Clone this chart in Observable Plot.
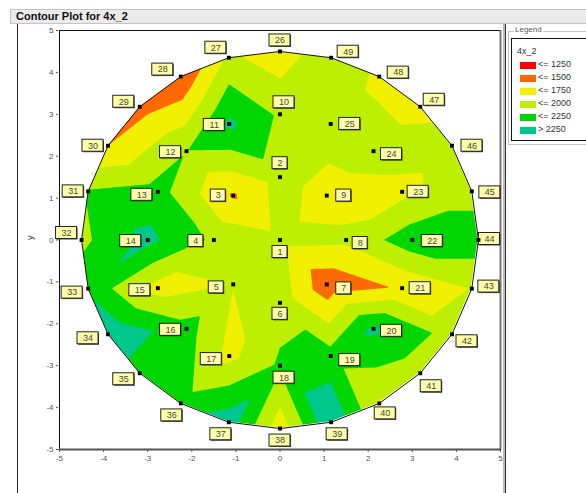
<!DOCTYPE html>
<html><head><meta charset="utf-8">
<script src="https://cdn.jsdelivr.net/npm/d3@7"></script>
<script src="https://cdn.jsdelivr.net/npm/@observablehq/plot@0.6"></script>
<style>
body{margin:0;background:#fff;font-family:"Liberation Sans",Arial,sans-serif;}
#wrap{position:relative;width:586px;height:493px;overflow:hidden;background:#fff;}
#wrap svg{position:absolute;left:0;top:0;}
.abs{position:absolute;}
#title{left:10px;top:9px;width:580px;height:13px;background:#ebebeb;border:1px solid #c4c4c4;border-right:none;font-weight:bold;font-size:11px;line-height:13px;color:#111;padding-left:5px;box-sizing:content-box;}
#panel{left:17px;top:23px;width:487px;height:480px;border-left:1.5px solid #222;border-right:1px solid #333;border-top:1px solid #888;box-shadow:inset -2px 0 0 #bbb;}
#lgGroup{left:508px;top:31px;width:90px;height:112px;border:1px solid #c4c4c4;}
#lgTitle{left:514px;top:25px;font-size:8px;color:#555;background:#fff;padding:0 1px;}
#lgBox{left:511px;top:38px;width:90px;height:101px;border:1px solid #111;}
#lgVar{left:517px;top:46px;font-size:9px;color:#333;}
.row{position:absolute;left:520px;height:7px;font-size:9px;color:#333;}
.sw{position:absolute;left:0;top:0;width:16px;height:7px;}
.lab{position:absolute;left:18px;top:-3px;white-space:nowrap;}
</style></head>
<body><div id="wrap"></div>
<script>
// ---- data ----
const ids = d3.range(1, 50);
const xs = [0, 0, -1.06, -1.5, -1.06, 0, 1.06, 1.5, 1.06,
  0, -1.15, -2.12, -2.77, -3, -2.77, -2.12, -1.15, 0, 1.15, 2.12, 2.77, 3, 2.77, 2.12, 1.15,
  0, -1.16, -2.25, -3.18, -3.9, -4.35, -4.5, -4.35, -3.9, -3.18, -2.25, -1.16, 0, 1.16, 2.25, 3.18, 3.9, 4.35, 4.5, 4.35, 3.9, 3.18, 2.25, 1.16];
const ys = [0, 1.5, 1.06, 0, -1.06, -1.5, -1.06, 0, 1.06,
  3, 2.77, 2.12, 1.15, 0, -1.15, -2.12, -2.77, -3, -2.77, -2.12, -1.15, 0, 1.15, 2.12, 2.77,
  4.5, 4.35, 3.9, 3.18, 2.25, 1.16, 0, -1.16, -2.25, -3.18, -3.9, -4.35, -4.5, -4.35, -3.9, -3.18, -2.25, -1.16, 0, 1.16, 2.25, 3.18, 3.9, 4.35];
const values = [1820, 1850, 1470, 1950, 1755, 1900, 1330, 1800, 1650,
  1960, 2300, 1990, 2100, 2320, 1650, 2100, 1680, 2040, 2100, 2300, 1530, 2150, 1680, 1850, 1870,
  1590, 1800, 1280, 1400, 1500, 2020, 1940, 2180, 2450, 2140, 2100, 2400, 1600, 2480, 1720, 1850, 1900, 1760, 2150, 1900, 1850, 1680, 1700, 1950];
// label offsets from the point (pixels)
const labelDx = [0, 0, -15, -18, -17, 0, 17, 14, 17,
  4, -15, -16, -16, -17, -18, -16, -18, 4, 19, 18, 18, 20, 16, 18, 19,
  0, -13, -18, -16, -15, -15, -15, -16, -20, -16, -9, -8, 0, 6, 6, 11, 15, 17, 11, 18, 20, 14, 19, 17];
const labelDy = [12, -14, 0, 1, 3, 11, 4, 3, 0,
  -12, 1, 1, 3, 1, 2, 1, 3, 12, 4, 2, 0, 1, 0, 3, 0,
  -11, -10, -7, -5, 0, 0, -7, 4, 4, 6, 12, 12, 12, 12, 10, 13, 7, -2, -1, 1, 0, -7, -4, -6];
const outerRing = d3.range(26, 50); // ids of boundary points, in order
const thresholds = [1250, 1500, 1750, 2000, 2250];
const colors = ["#ff0000", "#ff6a00", "#f0f000", "#bdf000", "#00d600", "#00c88c"];
const legendLabels = ["<= 1250", "<= 1500", "<= 1750", "<= 2000", "<= 2250", "> 2250"];
const axisTicks = [-5, -4, -3, -2, -1, 0, 1, 2, 3, 4, 5];
const yLabel = ["y"];

// ---- layout ----
const W = 586, H = 493, ML = 59, MR = 86, MT = 30, MB = 44;
const KX = (W - ML - MR) / 10, KY = (H - MT - MB) / 10;

const pts = ids.map((id, i) => ({id, x: xs[i], y: ys[i], v: values[i]}));
const ring = outerRing.map(id => pts[id - 1]);
const ringClosed = [...ring, ring[0]];
const upper = [{x: -5, y: 0}, ...ring.filter(p => p.y >= 0).sort((a, b) => a.x - b.x), {x: 5, y: 0}];
const lower = [{x: -5, y: 0}, ...ring.filter(p => p.y <= 0).sort((a, b) => a.x - b.x), {x: 5, y: 0}];
const labels = pts.map((p, i) => {
  const w = String(p.id).length > 1 ? 21 : 15, h = 12;
  const lx = p.x + labelDx[i] / KX, ly = p.y - labelDy[i] / KY;
  return {id: p.id, lx, ly, x1: lx - w / 2 / KX, x2: lx + w / 2 / KX, y1: ly - h / 2 / KY, y2: ly + h / 2 / KY};
});

const chart = Plot.plot({
  width: W, height: H,
  marginLeft: ML, marginRight: MR, marginTop: MT, marginBottom: MB,
  style: {fontFamily: "Liberation Sans, Arial, sans-serif", fontSize: "8px", color: "#555", background: "transparent"},
  x: {domain: [-5, 5], ticks: axisTicks, tickSize: 3, tickPadding: 3, tickFormat: d => String(d), label: null},
  y: {domain: [-5, 5], ticks: axisTicks, tickSize: 3, tickPadding: 3, tickFormat: d => String(d), label: null},
  color: {type: "threshold", domain: thresholds, range: colors},
  marks: [
    Plot.contour(pts, {x: "x", y: "y", fill: "v", interpolate: "barycentric", thresholds: [0, ...thresholds], pixelSize: 1}),
    Plot.areaY(upper, {x: "x", y1: "y", y2: 5, fill: "white", stroke: "white", strokeWidth: 1}),
    Plot.areaY(lower, {x: "x", y1: "y", y2: -5, fill: "white", stroke: "white", strokeWidth: 1}),
    Plot.line(ringClosed, {x: "x", y: "y", stroke: "#111", strokeWidth: 1}),
    Plot.frame({stroke: "#111", strokeWidth: 1}),
    Plot.ruleX([5], {stroke: "#777", strokeWidth: 2}),
    Plot.ruleY([-5], {stroke: "#555", strokeWidth: 2}),
    Plot.rect(labels, {x1: "x1", x2: "x2", y1: "y1", y2: "y2", fill: "#444", dx: 1, dy: 1}),
    Plot.rect(labels, {x1: "x1", x2: "x2", y1: "y1", y2: "y2", fill: "#ffffa8", stroke: "#222", strokeWidth: 1}),
    Plot.text(labels, {x: "lx", y: "ly", text: d => String(d.id), fontSize: 9, fill: "#444"}),
    Plot.dot(pts, {x: "x", y: "y", symbol: "square", r: 2.2, fill: "black", stroke: null}),
    Plot.text(yLabel, {text: d => d, frameAnchor: "left", dx: -29, rotate: -90, fontSize: 9, fill: "#333"})
  ]
});

const wrap = document.getElementById("wrap");
wrap.appendChild(chart);
const add = (id, cls, text) => { const e = document.createElement("div"); if (id) e.id = id; e.className = cls; if (text) e.textContent = text; wrap.appendChild(e); return e; };
add("panel", "abs");
add("title", "abs", "Contour Plot for 4x_2");
add("lgGroup", "abs");
add("lgTitle", "abs", "Legend");
add("lgBox", "abs");
add("lgVar", "abs", "4x_2");
const rowY = [62, 75, 88, 101, 114, 127];
colors.forEach((c, i) => {
  const r = add(null, "row");
  r.style.top = rowY[i] + "px";
  const s = document.createElement("div"); s.className = "sw"; s.style.background = c; r.appendChild(s);
  const t = document.createElement("div"); t.className = "lab"; t.textContent = legendLabels[i]; r.appendChild(t);
});
</script></body></html>
